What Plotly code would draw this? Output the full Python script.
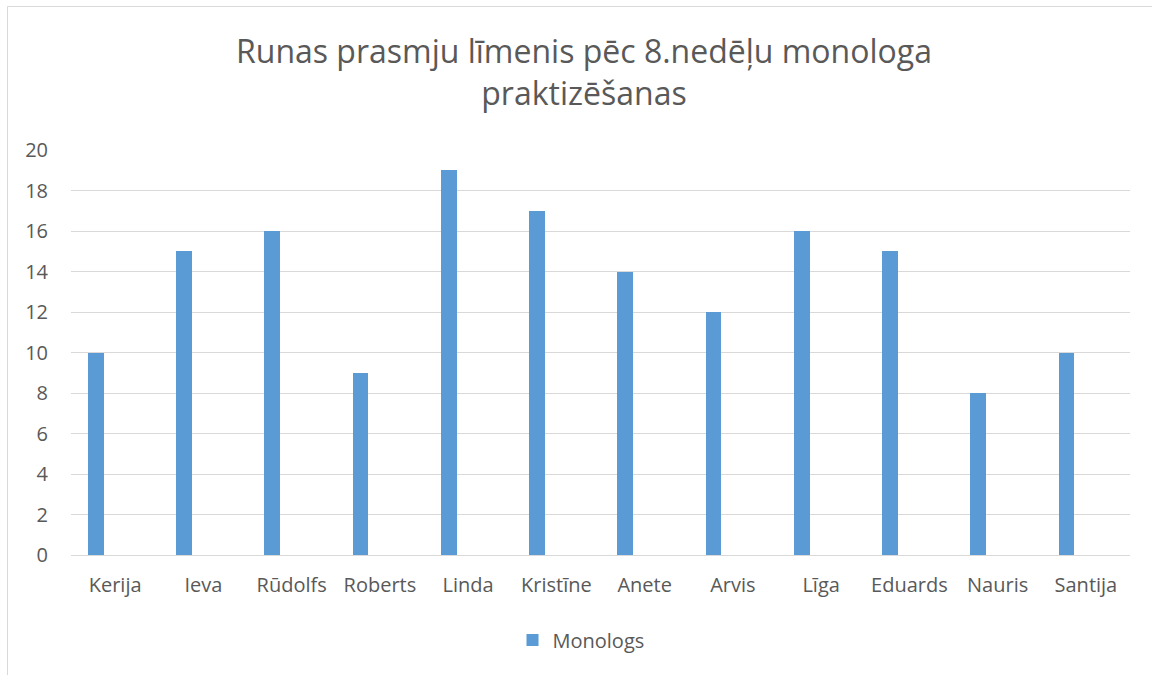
import plotly.graph_objects as go

students = ["Kerija", "Ieva", "Rūdolfs", "Roberts", "Linda", "Kristīne",
            "Anete", "Arvis", "Līga", "Eduards", "Nauris", "Santija"]
monologs = [10, 15, 16, 9, 19, 17, 14, 12, 16, 15, 8, 10]
y_ticks = [0, 2, 4, 6, 8, 10, 12, 14, 16, 18, 20]

title_text = "Runas prasmju līmenis pēc 8.nedēļu monologa<br>praktizēšanas"

FONT = "Open Sans"
GREY = "#595959"
GRID = "#d9d9d9"

L, R, T, B = 71, 22, 150, 120
W, H = 1152, 675
pw = W - L - R
ph = H - T - B

fig = go.Figure()
fig.add_trace(go.Bar(
    x=students, y=monologs, name="Monologs",
    marker=dict(color="#5b9bd5", line=dict(width=0)),
    width=0.181, offset=-0.31,
))

fig.update_layout(
    width=W, height=H,
    margin=dict(l=L, r=R, t=T, b=B, pad=0),
    paper_bgcolor="white", plot_bgcolor="white",
    font=dict(family=FONT, color=GREY, size=20),
    showlegend=True,
    legend=dict(orientation="h", x=(581 - L) / pw, xanchor="center",
                y=-(640 - (T + ph)) / ph, yanchor="middle",
                font=dict(size=20, color=GREY), itemwidth=30),
    xaxis=dict(type="category", showgrid=False, showline=False, ticks="",
               tickfont=dict(size=20, color=GREY), ticklabelstandoff=16),
    yaxis=dict(range=[0, 20], tickvals=y_ticks, showgrid=True, gridcolor=GRID,
               gridwidth=1, zeroline=True, zerolinecolor=GRID, zerolinewidth=1,
               showline=False, ticks="", tickfont=dict(size=20, color=GREY),
               ticklabelstandoff=22),
    bargap=0,
)

fig.add_annotation(
    text=title_text, xref="paper", yref="paper",
    x=(584 - L) / pw, y=1 + (T - 72) / ph, xanchor="center", yanchor="middle",
    showarrow=False, font=dict(family=FONT, size=32, color=GREY),
)

# chart frame
fx = (7.5 - L) / pw
fy = 1 + (T - 6.5) / ph
fig.add_shape(type="line", xref="paper", yref="paper", x0=fx, x1=(W - L) / pw,
              y0=fy, y1=fy, line=dict(color=GRID, width=1))
fig.add_shape(type="line", xref="paper", yref="paper", x0=fx, x1=fx,
              y0=fy, y1=-(B + 5) / ph, line=dict(color=GRID, width=1))

fig.write_html("out.html", config={"displayModeBar": False},
               post_script="document.body.style.margin='0';document.body.style.overflow='hidden';")
